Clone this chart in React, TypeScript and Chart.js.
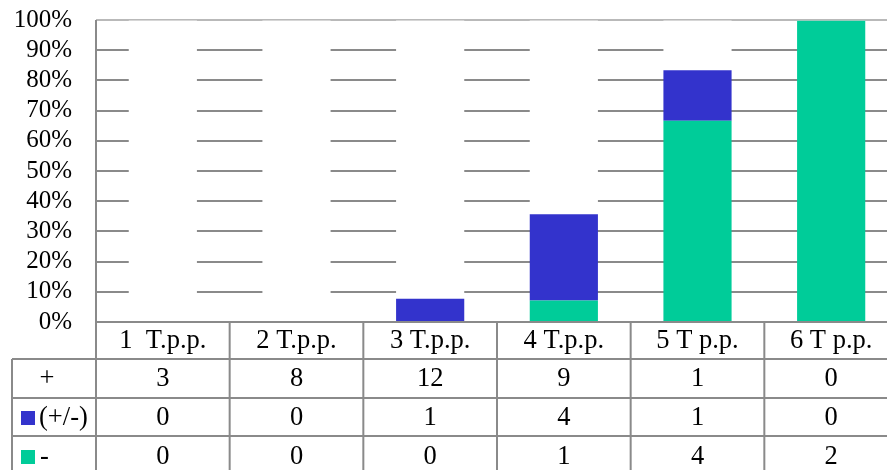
import React, { useEffect, useRef } from "react";
import { Chart, registerables } from "chart.js";

Chart.register(...registerables);

const categories = ["1  T.p.p.", "2 T.p.p.", "3 T.p.p.", "4 T.p.p.", "5 T p.p.", "6 T p.p."];
const plusValues = [3, 8, 12, 9, 1, 0];
const mixedValues = [0, 0, 1, 4, 1, 0];
const minusValues = [0, 0, 0, 1, 4, 2];
const seriesNames = ["+", "(+/-)", "-"];
const yTicks = [0, 10, 20, 30, 40, 50, 60, 70, 80, 90, 100];

const BLUE = "#3333CC";
const GREEN = "#00CC99";
const LINE = "#8a8a8a";
const FONT = "'Liberation Serif', 'Times New Roman', serif";

const totals = categories.map((_, i) => plusValues[i] + mixedValues[i] + minusValues[i]);
const pct = (arr: number[]) => arr.map((v, i) => (totals[i] ? (v / totals[i]) * 100 : 0));

const tablePlugin = {
  id: "dataTable",
  afterDraw(chart: any) {
    const ctx = chart.ctx;
    const area = chart.chartArea;
    const x = chart.scales.x;
    const left = area.left;
    const right = area.right;
    const rowTops = [area.bottom, 359, 398, 436, 476];
    const legendLeft = 12;
    const n = categories.length;
    const colW = (right - left) / n;
    ctx.save();
    ctx.strokeStyle = "#c8c8c8";
    ctx.lineWidth = 1.5;
    ctx.beginPath();
    ctx.moveTo(left, area.top);
    ctx.lineTo(right, area.top);
    ctx.stroke();

    ctx.strokeStyle = LINE;
    ctx.lineWidth = 2;
    ctx.beginPath();
    ctx.moveTo(left, rowTops[0]);
    ctx.lineTo(right, rowTops[0]);
    for (let r = 1; r < 4; r++) {
      ctx.moveTo(legendLeft, rowTops[r]);
      ctx.lineTo(right, rowTops[r]);
    }
    ctx.moveTo(left, area.top);
    ctx.lineTo(left, 476);
    ctx.moveTo(legendLeft, rowTops[1]);
    ctx.lineTo(legendLeft, 476);
    for (let i = 1; i <= n; i++) {
      const cx = left + colW * i;
      ctx.moveTo(cx, rowTops[0]);
      ctx.lineTo(cx, 476);
    }
    ctx.stroke();

    ctx.fillStyle = "#000";
    ctx.font = `26.5px ${FONT}`;
    ctx.textAlign = "center";
    ctx.textBaseline = "middle";
    const rows = [categories, plusValues.map(String), mixedValues.map(String), minusValues.map(String)];
    rows.forEach((row, r) => {
      const yc = (rowTops[r] + rowTops[r + 1]) / 2 + 1;
      row.forEach((t, i) => {
        const cx = x.getPixelForValue(i);
        ctx.fillText(t, cx, yc);
      });
    });
    const yc1 = (rowTops[1] + rowTops[2]) / 2 + 1;
    const yc2 = (rowTops[2] + rowTops[3]) / 2 + 1;
    const yc3 = (rowTops[3] + rowTops[4]) / 2 + 1;
    ctx.fillText(seriesNames[0], 47, yc1);
    ctx.fillStyle = BLUE;
    ctx.fillRect(21, yc2 - 7, 14, 14);
    ctx.fillStyle = GREEN;
    ctx.fillRect(21, yc3 - 7, 14, 14);
    ctx.fillStyle = "#000";
    ctx.textAlign = "left";
    ctx.fillText(seriesNames[1], 39, yc2);
    ctx.fillText(seriesNames[2], 40, yc3);
    ctx.restore();
  },
};

export default function App() {
  const ref = useRef<HTMLCanvasElement | null>(null);
  useEffect(() => {
    if (!ref.current) return;
    const chart = new Chart(ref.current, {
      type: "bar",
      data: {
        labels: categories,
        datasets: [
          { label: seriesNames[2], data: pct(minusValues), backgroundColor: GREEN, borderWidth: 0 },
          { label: seriesNames[1], data: pct(mixedValues), backgroundColor: BLUE, borderWidth: 0 },
          { label: seriesNames[0], data: pct(plusValues), backgroundColor: "#ffffff", borderWidth: 0 },
        ],
      },
      options: {
        responsive: false,
        animation: false,
        maintainAspectRatio: false,
        layout: { padding: { left: 0, right: 0, top: 20, bottom: 148 } },
        datasets: { bar: { categoryPercentage: 1, barPercentage: 0.51 } },
        plugins: { legend: { display: false }, tooltip: { enabled: false } },
        scales: {
          x: { stacked: true, display: false },
          y: {
            stacked: true,
            min: 0,
            max: 100,
            afterFit: (s: any) => {
              s.width = 96;
              s.paddingTop = 0;
              s.paddingBottom = 0;
            },
            afterBuildTicks: (s: any) => {
              s.ticks = yTicks.map((v) => ({ value: v }));
            },
            border: { display: false },
            grid: { color: LINE, lineWidth: 2, drawTicks: false },
            ticks: {
              padding: 24,
              autoSkip: false,
              color: "#000",
              font: { family: FONT, size: 25 },
              callback: (v: any) => `${v}%`,
            },
          },
        },
      },
      plugins: [tablePlugin],
    });
    return () => chart.destroy();
  }, []);
  return (
    <div style={{ position: "absolute", left: 0, top: 0, width: 887, height: 470, overflow: "hidden", background: "#fff" }}>
      <canvas ref={ref} width={898} height={470} style={{ display: "block", width: 898, height: 470 }} />
    </div>
  );
}
